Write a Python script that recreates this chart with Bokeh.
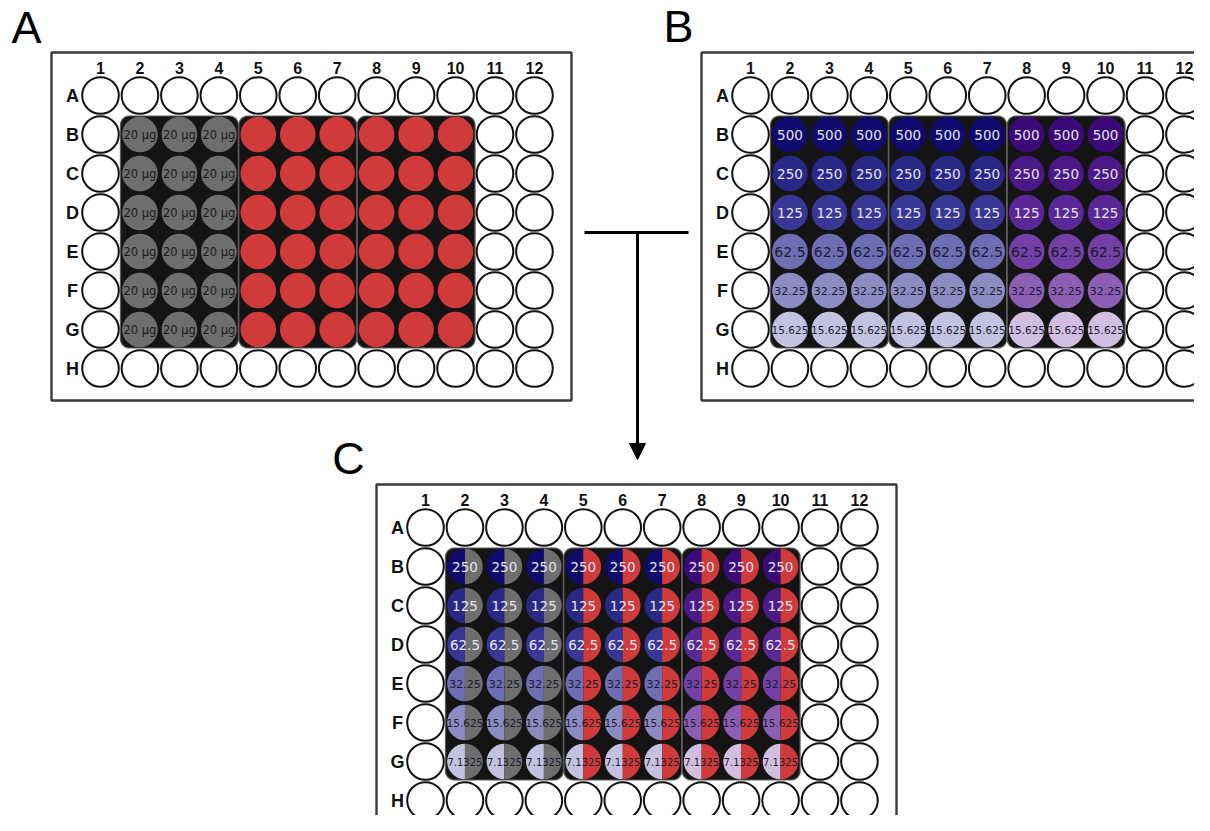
import numpy as np
from bokeh.plotting import figure
from bokeh.models import ColumnDataSource, Range1d, Arrow, NormalHead
from bokeh.core.properties import value
from bokeh.embed import file_html
from bokeh.resources import INLINE

# ---------------- data ----------------
col_labels = [str(i) for i in range(1, 13)]
row_labels = ["A", "B", "C", "D", "E", "F", "G", "H"]
panel_letters = ["A", "B", "C"]

a_label = "20 μg"                                   # panel A, cols 2-4
b_conc = ["500", "250", "125", "62.5", "32.25", "15.625"]      # panel B rows B-G
c_conc = ["250", "125", "62.5", "32.25", "15.625", "7.1325"]   # panel C rows B-G
b_size = ["13.5px", "13.5px", "13.5px", "14px", "11px", "10.5px"]
c_size = ["13.5px", "13.5px", "13.5px", "11px", "10.5px", "10px"]
blue_shades = ["#0f0a6e", "#282887", "#373796", "#6e6eb4", "#8c8cc3", "#c3c3e1"]
purple_shades = ["#3c0a78", "#4b1987", "#5a2896", "#7341a5", "#8c5fb4", "#d2bee1"]
text_shades = ["#e4e4f0", "#e4e4f0", "#e4e4f0", "#1c1c30", "#1c1c30", "#1c1c30"]
gray_c = "#6e6e6e"
red_c = "#d03a3a"
groups = [(2, 4), (5, 7), (8, 10)]

# ---------------- layout ----------------
origins = {"A": (51, 52), "B": (701, 52), "C": (376, 484)}
PW, PH = 520, 348
DX, DY = 39.45, 39.0
OX, OY = 49, 43
R_EMPTY, R_FILL = 18.3, 17.8


def wx(o, c):
    return o[0] + OX + (c - 1) * DX


def wy(o, r):
    return o[1] + OY + r * DY


def rrect(x0, y0, x1, y1, r, n=10):
    xs, ys = [], []
    for cx, cy, a0 in [(x1 - r, y0 + r, -90), (x1 - r, y1 - r, 0),
                       (x0 + r, y1 - r, 90), (x0 + r, y0 + r, 180)]:
        for t in np.linspace(a0, a0 + 90, n):
            xs.append(cx + r * np.cos(np.radians(t)))
            ys.append(cy + r * np.sin(np.radians(t)))
    return xs, ys


p = figure(width=1194, height=815, x_range=Range1d(0, 1194), y_range=Range1d(815, 0),
           x_axis_location=None, y_axis_location=None, toolbar_location=None,
           output_backend="svg", min_border=0)
p.grid.visible = False
p.outline_line_color = None
p.background_fill_color = "white"

# plate boxes
bx = [o[0] + PW / 2 for o in origins.values()]
by = [o[1] + PH / 2 for o in origins.values()]
p.rect(bx, by, PW, PH, fill_color="white", line_color="#3a3a3a", line_width=2.4)

# dark group backgrounds
gxs, gys = [], []
for key, o in origins.items():
    for c0, c1 in groups:
        xs, ys = rrect(wx(o, c0) - 19.5, wy(o, 1) - 18.5, wx(o, c1) + 19.5, wy(o, 6) + 18.5, 9)
        gxs.append(xs)
        gys.append(ys)
p.patches(gxs, gys, fill_color="#151414", line_color="#5e5e5e", line_width=1.2)

# empty wells
ex, ey = [], []
for o in origins.values():
    for r in range(8):
        for c in range(1, 13):
            if r in (0, 7) or c in (1, 11, 12):
                ex.append(wx(o, c))
                ey.append(wy(o, r))
p.circle(ex, ey, radius=R_EMPTY, fill_color="white", line_color="#111111", line_width=2)

# panel A filled wells
fa = dict(x=[], y=[], color=[])
ta = dict(x=[], y=[], text=[])
o = origins["A"]
for gi, (c0, c1) in enumerate(groups):
    for c in range(c0, c1 + 1):
        for r in range(1, 7):
            fa["x"].append(wx(o, c))
            fa["y"].append(wy(o, r))
            fa["color"].append(gray_c if gi == 0 else red_c)
            if gi == 0:
                ta["x"].append(wx(o, c))
                ta["y"].append(wy(o, r))
                ta["text"].append(a_label)
p.circle("x", "y", radius=R_FILL, fill_color="color", line_color=None, source=ColumnDataSource(fa))
p.text("x", "y", text="text", source=ColumnDataSource(ta), text_align="center",
       text_baseline="middle", text_font=value("DejaVu Sans"), text_font_size="11.5px",
       text_color="#1a1a1a")

# panel B filled wells
fb = dict(x=[], y=[], color=[], text=[], tc=[], fs=[])
o = origins["B"]
for gi, (c0, c1) in enumerate(groups):
    for c in range(c0, c1 + 1):
        for r in range(1, 7):
            fb["x"].append(wx(o, c))
            fb["y"].append(wy(o, r))
            fb["color"].append(purple_shades[r - 1] if gi == 2 else blue_shades[r - 1])
            fb["text"].append(b_conc[r - 1])
            fb["tc"].append(text_shades[r - 1])
            fb["fs"].append(b_size[r - 1])
sb = ColumnDataSource(fb)
p.circle("x", "y", radius=R_FILL, fill_color="color", line_color=None, source=sb)
p.text("x", "y", text="text", source=sb, text_align="center", text_baseline="middle",
       text_font=value("DejaVu Sans"), text_font_size="fs", text_color="tc")

# panel C half wells
fc = dict(x=[], y=[], lcol=[], rcol=[], text=[], tc=[], fs=[])
o = origins["C"]
for gi, (c0, c1) in enumerate(groups):
    for c in range(c0, c1 + 1):
        for r in range(1, 7):
            fc["x"].append(wx(o, c))
            fc["y"].append(wy(o, r))
            fc["lcol"].append(purple_shades[r - 1] if gi == 2 else blue_shades[r - 1])
            fc["rcol"].append(gray_c if gi == 0 else red_c)
            fc["text"].append(c_conc[r - 1])
            fc["tc"].append(text_shades[r - 1])
            fc["fs"].append(c_size[r - 1])
sc = ColumnDataSource(fc)
p.wedge("x", "y", radius=R_FILL, start_angle=np.pi / 2, end_angle=3 * np.pi / 2,
        fill_color="lcol", line_color=None, source=sc)
p.wedge("x", "y", radius=R_FILL, start_angle=-np.pi / 2, end_angle=np.pi / 2,
        fill_color="rcol", line_color=None, source=sc)
p.text("x", "y", text="text", source=sc, text_align="center", text_baseline="middle",
       text_font=value("DejaVu Sans"), text_font_size="fs", text_color="tc")

# column & row labels
clx, cly, clt, rlx, rly, rlt = [], [], [], [], [], []
for o in origins.values():
    for c in range(1, 13):
        clx.append(wx(o, c))
        cly.append(o[1] + 15)
        clt.append(col_labels[c - 1])
    for r in range(8):
        rlx.append(o[0] + 21)
        rly.append(wy(o, r))
        rlt.append(row_labels[r])
p.text(clx, cly, text=clt, text_align="center", text_baseline="middle",
       text_font=value("Liberation Sans"), text_font_style="bold", text_font_size="16px",
       text_color="#111111")
p.text(rlx, rly, text=rlt, text_align="center", text_baseline="middle",
       text_font=value("Liberation Sans"), text_font_style="bold", text_font_size="18px",
       text_color="#111111")

# panel letters
p.text([26, 678, 348], [27, 26, 458], text=panel_letters, text_align="center",
       text_baseline="middle", text_font=value("Liberation Sans"),
       text_font_size="45px", text_color="#000000")

# connector arrow
p.segment(x0=[584], y0=[232], x1=[688], y1=[232], line_color="black", line_width=3)
p.add_layout(Arrow(end=NormalHead(size=16, fill_color="black", line_color="black"),
                   x_start=637, y_start=232, x_end=637, y_end=459,
                   line_color="black", line_width=3))

open("out.html", "w").write(file_html(p, INLINE))
